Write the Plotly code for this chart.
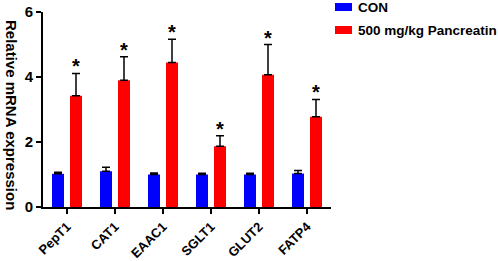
import plotly.graph_objects as go

categories = ["PepT1", "CAT1", "EAAC1", "SGLT1", "GLUT2", "FATP4"]
con_values = [1.02, 1.10, 1.00, 1.00, 1.00, 1.03]
con_errors = [0.05, 0.12, 0.05, 0.04, 0.04, 0.09]
pan_values = [3.42, 3.90, 4.45, 1.87, 4.07, 2.78]
pan_errors = [0.69, 0.72, 0.71, 0.32, 0.93, 0.53]
series_names = ["CON", "500 mg/kg Pancreatin"]
colors = ["#0000FF", "#FF0000"]
y_ticks = [0, 2, 4, 6]

FONT = "Liberation Sans, Arial, sans-serif"
xs = list(range(len(categories)))

PLOT_L, PLOT_T, PLOT_W, PLOT_H = 43, 12, 288, 195  # plot area in pixels

fig = go.Figure()
for vals, errs, name, col, off in [
    (con_values, con_errors, series_names[0], colors[0], -0.3125),
    (pan_values, pan_errors, series_names[1], colors[1], 0.0625),
]:
    fig.add_trace(go.Bar(
        x=xs, y=vals, name=name, width=0.25, offset=off,
        marker=dict(color=col, line=dict(width=0)),
        error_y=dict(type="data", array=errs, arrayminus=[0] * len(errs),
                     symmetric=False, color="black", thickness=1.5, width=4),
        showlegend=False, hoverinfo="skip",
    ))

# significance stars
for i, (v, e) in enumerate(zip(pan_values, pan_errors)):
    fig.add_annotation(x=i + 0.1875, y=v + e, text="<b>*</b>", showarrow=False,
                       yanchor="bottom", yshift=-6,
                       font=dict(family=FONT, size=20, color="black"))

# y-axis title (reads top to bottom)
fig.add_annotation(xref="paper", yref="paper", x=(12 - PLOT_L) / PLOT_W, y=1 - (115 - PLOT_T) / PLOT_H,
                   xanchor="center", yanchor="middle",
                   text="<b>Relative mRNA expression</b>",
                   textangle=90, showarrow=False, font=dict(family=FONT, size=15, color="black"))

# legend (manual)
leg_y = [7, 30]
for name, col, py in zip(series_names, colors, leg_y):
    fig.add_shape(type="rect", xref="x domain", yref="paper",
                  x0=(335 - PLOT_L) / PLOT_W, x1=(352 - PLOT_L) / PLOT_W,
                  y0=1 - (py - 4 - PLOT_T) / PLOT_H, y1=1 - (py + 4 - PLOT_T) / PLOT_H,
                  fillcolor=col, line=dict(width=0))
    fig.add_annotation(xref="x domain", yref="paper", x=(356 - PLOT_L) / PLOT_W, y=1 - (py - PLOT_T) / PLOT_H,
                       text=f"<b>{name}</b>", showarrow=False, xanchor="left", yanchor="middle",
                       font=dict(family=FONT, size=13.5, color="black"))

fig.update_layout(
    width=498, height=261,
    margin=dict(l=PLOT_L, r=498 - PLOT_L - PLOT_W, t=PLOT_T, b=261 - PLOT_T - PLOT_H, autoexpand=False),
    plot_bgcolor="white", paper_bgcolor="white",
    font=dict(family=FONT, color="black"),
)
fig.update_xaxes(
    range=[-0.5, len(categories) - 0.5], tickmode="array", tickvals=xs,
    ticktext=[f"<b>{c}</b>" for c in categories], tickangle=-45,
    ticks="outside", ticklen=5, tickwidth=1.5, tickcolor="black",
    showline=True, linecolor="black", linewidth=2, showgrid=False, zeroline=False,
    tickfont=dict(family=FONT, size=13, color="black"), automargin=False,
)
fig.update_yaxes(
    range=[0, 6], tickmode="array", tickvals=y_ticks, ticktext=[f"<b>{t}</b>" for t in y_ticks],
    ticks="outside", ticklen=5, tickwidth=1.5, tickcolor="black",
    showline=True, linecolor="black", linewidth=2, showgrid=False, zeroline=False,
    tickfont=dict(family=FONT, size=15, color="black"), automargin=False,
)

fig.write_html("out.html", config={"displayModeBar": False},
               post_script="document.body.style.margin='0';document.body.style.overflow='hidden';")
